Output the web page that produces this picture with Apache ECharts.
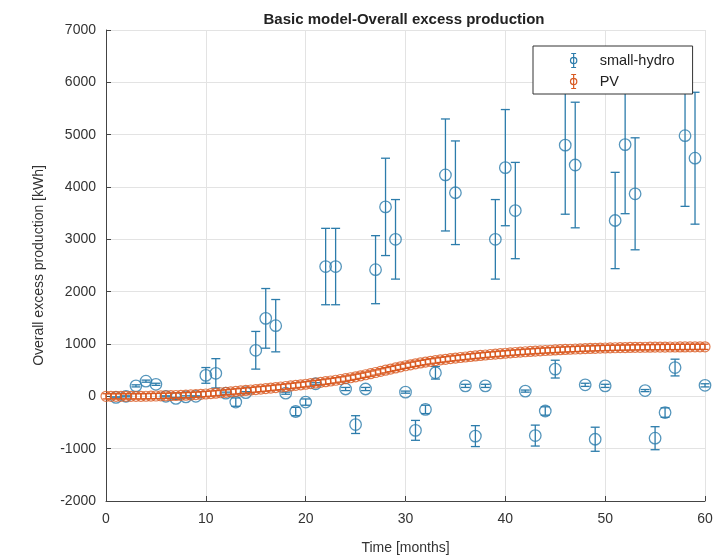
<!DOCTYPE html>
<html>
<head>
<meta charset="utf-8">
<script src="https://cdn.jsdelivr.net/npm/echarts@6/dist/echarts.min.js"></script>
<style>
  html, body { margin: 0; padding: 0; background: #fff; }
  #chart { width: 714px; height: 557px; }
</style>
</head>
<body>
<div id="chart"></div>
<script>
// Monthly excess production of the small-hydro plant (kWh) with its spread
const hydroMonths = [1,2,3,4,5,6,7,8,9,10,11,12,13,14,15,16,17,18,19,20,21,22,23,24,25,26,27,28,29,30,
                     31,32,33,34,35,36,37,38,39,40,41,42,43,44,45,46,47,48,49,50,51,52,53,54,55,56,57,58,59,60];
const hydroValues = [-20,0,200,290,230,0,-40,-10,0,400,440,60,-110,70,880,1490,1350,60,-290,-110,
                     240,2480,2480,140,-540,140,2420,3620,3000,80,
                     -650,-250,450,4230,3890,200,-760,200,3000,4370,
                     3550,100,-750,-280,520,4800,4420,220,-820,200,
                     3360,4810,3870,110,-800,-310,550,4980,4550,210];
const hydroErrors = [10,10,20,20,20,10,20,20,10,150,280,20,80,20,360,570,500,20,80,60,
                     20,730,730,30,170,30,650,930,760,20,
                     190,80,120,1070,990,30,200,30,760,1110,
                     920,20,200,80,170,1320,1200,30,230,30,
                     920,1320,1070,20,220,90,160,1350,1260,30];

// PV excess production, every half month from 0 to 60
const pvMonths = [0,0.5,1,1.5,2,2.5,3,3.5,4,4.5,5,5.5,6,6.5,7,7.5,8,8.5,9,9.5,
                  10,10.5,11,11.5,12,12.5,13,13.5,14,14.5,15,15.5,16,16.5,17,17.5,18,18.5,19,19.5,
                  20,20.5,21,21.5,22,22.5,23,23.5,24,24.5,25,25.5,26,26.5,27,27.5,28,28.5,29,29.5,
                  30,30.5,31,31.5,32,32.5,33,33.5,34,34.5,35,35.5,36,36.5,37,37.5,38,38.5,39,39.5,
                  40,40.5,41,41.5,42,42.5,43,43.5,44,44.5,45,45.5,46,46.5,47,47.5,48,48.5,49,49.5,
                  50,50.5,51,51.5,52,52.5,53,53.5,54,54.5,55,55.5,56,56.5,57,57.5,58,58.5,59,59.5,60];
const pvValues = [0,0,0,0,0,0,0,0,2,4,6,8,10,13,16,19,22,27,32,38,
                  45,52,60,68,76,85,94,103,112,121,130,139,148,158,168,178,188,198,209,220,
                  231,243,255,267,280,293,307,322,338,355,373,392,412,433,455,477,499,521,543,564,
                  584,603,621,638,654,669,683,696,708,720,731,742,752,762,772,781,790,799,807,815,
                  823,831,838,845,852,858,864,870,876,881,886,891,896,900,904,908,912,915,918,921,
                  924,926,928,930,932,934,936,937,938,939,940,941,942,943,943,944,944,945,945,946,946];
const pvErrors = 50;

const xTicks = { min: 0, max: 60, step: 10 };
const yTicks = { min: -2000, max: 7000, step: 1000 };

const BLUE = '#2c7cab';
const ORANGE = '#d95a22';
const FONT = '"Liberation Sans", Arial, Helvetica, sans-serif';

const hydroData = hydroMonths.map((m, i) => [m, hydroValues[i], hydroErrors[i]]);
const pvData = pvMonths.map((m, i) => [m, pvValues[i], pvErrors]);

// Vertical error bar with caps, positioned through the axes
function errorBar(color, capHalf) {
  return function (params, api) {
    const x = api.value(0), y = api.value(1), e = api.value(2);
    const top = api.coord([x, y + e]);
    const bot = api.coord([x, y - e]);
    const st = { stroke: color, lineWidth: 1.3 };
    return {
      type: 'group',
      children: [
        { type: 'line', shape: { x1: top[0], y1: top[1], x2: bot[0], y2: bot[1] }, style: st },
        { type: 'line', shape: { x1: top[0] - capHalf, y1: top[1], x2: top[0] + capHalf, y2: top[1] }, style: st },
        { type: 'line', shape: { x1: bot[0] - capHalf, y1: bot[1], x2: bot[0] + capHalf, y2: bot[1] }, style: st }
      ]
    };
  };
}

const legendIcon = 'path://M5,0 L5,20 M1.5,0 L8.5,0 M1.5,20 L8.5,20 M9.5,10 A4.5,4.5 0 1,1 0.5,10 A4.5,4.5 0 1,1 9.5,10 Z';

const chart = echarts.init(document.getElementById('chart'));
chart.setOption({
  animation: false,
  backgroundColor: '#fff',
  textStyle: { fontFamily: FONT },
  title: {
    text: 'Basic model-Overall excess production',
    left: 399, top: 7, textAlign: 'center',
    textStyle: { fontSize: 15, fontWeight: 'bold', color: '#222', fontFamily: FONT }
  },
  legend: {
    orient: 'vertical',
    left: 533, top: 46,
    padding: [5, 18, 3, 35],
    itemGap: 2,
    itemWidth: 8, itemHeight: 14,
    borderColor: '#333', borderWidth: 1,
    backgroundColor: '#fff',
    z: 10,
    textStyle: { fontSize: 14.5, color: '#222', fontFamily: FONT, padding: [0, 0, 0, 17] },
    data: [
      { name: 'small-hydro', icon: legendIcon, itemStyle: { color: 'none', borderColor: BLUE, borderWidth: 1.2 } },
      { name: 'PV', icon: legendIcon, itemStyle: { color: 'none', borderColor: ORANGE, borderWidth: 1.2 } }
    ]
  },
  grid: { left: 106, right: 9, top: 30, bottom: 56, outerBoundsMode: 'none', containLabel: false },
  xAxis: {
    type: 'value',
    min: xTicks.min, max: xTicks.max, interval: xTicks.step,
    name: 'Time [months]', nameLocation: 'middle', nameGap: 40,
    nameTextStyle: { fontSize: 14, color: '#333', fontFamily: FONT },
    axisLine: { onZero: false, lineStyle: { color: '#444', width: 1 } },
    axisTick: { inside: true, length: 5, lineStyle: { color: '#444' } },
    axisLabel: { fontSize: 14, color: '#333', margin: 11, fontFamily: FONT },
    splitLine: { show: true, lineStyle: { color: '#e3e3e3', width: 1 } }
  },
  yAxis: {
    type: 'value',
    min: yTicks.min, max: yTicks.max, interval: yTicks.step,
    name: 'Overall excess production [kWh]', nameLocation: 'middle', nameGap: 60,
    nameTextStyle: { fontSize: 14, color: '#333', fontFamily: FONT },
    axisLine: { show: true, lineStyle: { color: '#444', width: 1 } },
    axisTick: { show: true, inside: true, length: 5, lineStyle: { color: '#444' } },
    axisLabel: { fontSize: 14, color: '#333', margin: 10, fontFamily: FONT, formatter: v => String(v) },
    splitLine: { show: true, lineStyle: { color: '#e3e3e3', width: 1 } }
  },
  series: [
    {
      name: 'small-hydro', type: 'custom', data: hydroData,
      renderItem: errorBar(BLUE, 4.5), z: 2, silent: true
    },
    {
      name: 'small-hydro', type: 'scatter', data: hydroData,
      symbol: 'circle', symbolSize: 11.5,
      itemStyle: { color: 'rgba(0,0,0,0)', borderColor: BLUE, borderWidth: 1.3 }, z: 3
    },
    {
      name: 'PV', type: 'custom', data: pvData,
      renderItem: errorBar(ORANGE, 3.5), z: 4, silent: true
    },
    {
      name: 'PV', type: 'scatter', data: pvData,
      symbol: 'circle', symbolSize: 10,
      itemStyle: { color: 'rgba(0,0,0,0)', borderColor: ORANGE, borderWidth: 1.2 }, z: 5
    }
  ]
});
</script>
</body>
</html>
